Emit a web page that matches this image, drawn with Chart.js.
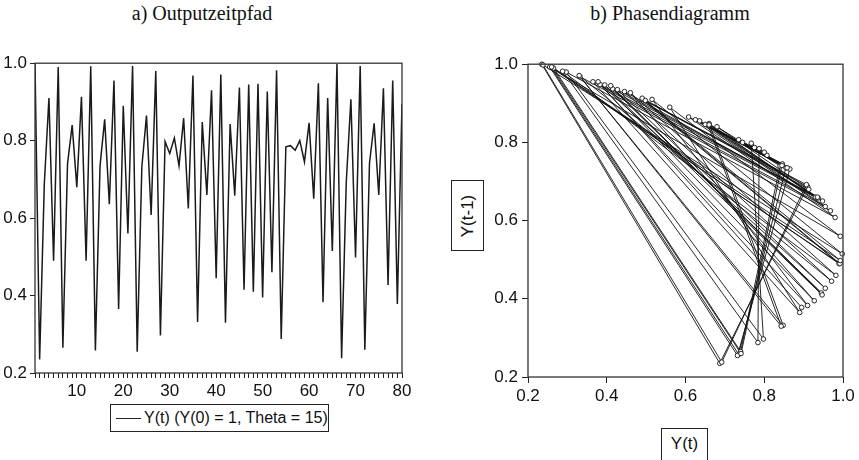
<!DOCTYPE html>
<html>
<head>
<meta charset="utf-8">
<script src="https://cdn.jsdelivr.net/npm/chart.js@4"></script>
<style>
  body { margin: 0; background: #fff; }
  #wrap { position: relative; width: 859px; height: 460px; overflow: hidden; font-family: "Liberation Sans", Arial, sans-serif; color: #111; }
  canvas { position: absolute; }
  .titel { position: absolute; top: 2px; font-family: "Liberation Serif", "Times New Roman", serif; font-size: 20px; text-align: center; }
  .box { position: absolute; border: 1px solid #222; background: #fff; box-sizing: border-box; }
</style>
</head>
<body>
<div id="wrap">
  <div class="titel" style="left:0; width:404px;">a) Outputzeitpfad</div>
  <div class="titel" style="left:540px; width:260px;">b) Phasendiagramm</div>

  <canvas id="zeitpfad" width="420" height="350" style="left:0; top:50px;"></canvas>
  <canvas id="phase" width="419" height="355" style="left:440px; top:50px;"></canvas>

  <div class="box" style="left:110px; top:404px; width:219px; height:28px; font-size:16px; line-height:26px; white-space:nowrap;">
    <span style="position:absolute; left:5px; top:13px; width:25px; border-top:1.5px solid #222;"></span>
    <span style="position:absolute; left:33px;">Y(t) (Y(0) = 1, Theta = 15)</span>
  </div>

  <div class="box" style="left:451px; top:180px; width:33px; height:71px;">
    <div style="position:absolute; left:50%; top:50%; transform:translate(-50%,-50%) rotate(-90deg); font-size:17px; white-space:nowrap;">Y(t-1)</div>
  </div>
  <div class="box" style="left:661px; top:428px; width:47px; height:36px; font-size:17px; text-align:center; line-height:30px;">Y(t)</div>
</div>

<script>
// Zeitpfad Y(t), t = 1..80
const perioden = Array.from({ length: 80 }, (_, i) => i + 1);
const outputY = [
    1.0, 0.235, 0.687, 0.91, 0.49, 0.99, 0.265, 0.74, 0.84, 0.68,
    0.913, 0.49, 0.992, 0.258, 0.735, 0.855, 0.636, 0.955, 0.365, 0.89,
    0.56, 0.993, 0.255, 0.732, 0.865, 0.608, 0.98, 0.297, 0.798, 0.767,
    0.807, 0.735, 0.858, 0.625, 0.968, 0.332, 0.848, 0.66, 0.93, 0.445,
    0.971, 0.33, 0.843, 0.658, 0.937, 0.415, 0.945, 0.41, 0.947, 0.395,
    0.927, 0.46, 0.982, 0.288, 0.784, 0.787, 0.775, 0.8, 0.745, 0.846,
    0.65, 0.948, 0.383, 0.91, 0.515, 0.998, 0.238, 0.692, 0.907, 0.498,
    0.993, 0.26, 0.741, 0.845, 0.66, 0.935, 0.427, 0.955, 0.378, 0.895
];
const yTicks = [0.2, 0.4, 0.6, 0.8, 1.0];
const zeitLabels = [10, 20, 30, 40, 50, 60, 70, 80];
const phaseTicks = [0.2, 0.4, 0.6, 0.8, 1.0];

// Phasendiagramm: Punkte (Y(t), Y(t-1))
const phasePunkte = outputY.slice(1).map((y, i) => ({ x: y, y: outputY[i] }));

const tickFont = { family: "'Liberation Sans', Arial, sans-serif", size: 17 };

// Rahmen um die Zeichenfläche
const rahmen = {
    id: 'rahmen',
    afterDraw(chart) {
        const { ctx, chartArea: a } = chart;
        ctx.save();
        ctx.strokeStyle = '#333';
        ctx.lineWidth = 1.3;
        ctx.strokeRect(a.left, a.top, a.right - a.left, a.bottom - a.top);
        ctx.restore();
    }
};

const achse = (extra) => Object.assign({
    type: 'linear',
    border: { display: false },
    grid: { drawOnChartArea: false, drawTicks: true, tickLength: 5, color: '#222' },
    ticks: { color: '#111', font: tickFont, padding: 3, autoSkip: false, maxRotation: 0 }
}, extra);

new Chart(document.getElementById('zeitpfad'), {
    type: 'line',
    data: {
        labels: perioden,
        datasets: [{
            data: outputY.map((v, i) => ({ x: perioden[i], y: v })),
            borderColor: '#1a1a1a',
            borderWidth: 1.5,
            pointRadius: 0,
            tension: 0
        }]
    },
    options: {
        responsive: false,
        animation: false,
        layout: { padding: { top: 11, right: 18, left: 0, bottom: 0 } },
        plugins: { legend: { display: false }, tooltip: { enabled: false } },
        scales: {
            x: achse({
                min: 1, max: 80,
                grid: { drawOnChartArea: false, tickLength: 5, color: '#222' },
                afterBuildTicks: s => { s.ticks = perioden.map(v => ({ value: v })); },
                afterFit: s => { s.height = 27; },
                ticks: {
                    color: '#111', font: tickFont, padding: 3, autoSkip: false, maxRotation: 0,
                    callback: v => zeitLabels.includes(v) ? String(v) : ''
                }
            }),
            y: achse({
                min: 0.2, max: 1.0,
                afterBuildTicks: s => { s.ticks = yTicks.map(v => ({ value: v })); },
                afterFit: s => { s.width = 35; },
                ticks: { color: '#111', font: tickFont, padding: 3, callback: v => v.toFixed(1) }
            })
        }
    },
    plugins: [rahmen]
});

new Chart(document.getElementById('phase'), {
    type: 'scatter',
    data: {
        datasets: [{
            data: phasePunkte,
            showLine: true,
            borderColor: '#111',
            borderWidth: 0.9,
            pointRadius: 2.3,
            pointBackgroundColor: '#fff',
            pointBorderColor: '#111',
            pointBorderWidth: 0.9,
            clip: false
        }]
    },
    options: {
        responsive: false,
        animation: false,
        layout: { padding: { top: 11, right: 16, left: 0, bottom: 0 } },
        plugins: { legend: { display: false }, tooltip: { enabled: false } },
        scales: {
            x: achse({
                min: 0.2, max: 1.0,
                grid: { drawOnChartArea: false, tickLength: 6, color: '#222' },
                afterBuildTicks: s => { s.ticks = phaseTicks.map(v => ({ value: v })); },
                afterFit: s => { s.height = 28; },
                ticks: { color: '#111', font: tickFont, padding: 3, callback: v => v.toFixed(1) }
            }),
            y: achse({
                min: 0.2, max: 1.0,
                grid: { drawOnChartArea: false, tickLength: 6, color: '#222' },
                afterBuildTicks: s => { s.ticks = yTicks.map(v => ({ value: v })); },
                afterFit: s => { s.width = 88; },
                ticks: { color: '#111', font: tickFont, padding: 4, callback: v => v.toFixed(1) }
            })
        }
    },
    plugins: [rahmen]
});
</script>
</body>
</html>
